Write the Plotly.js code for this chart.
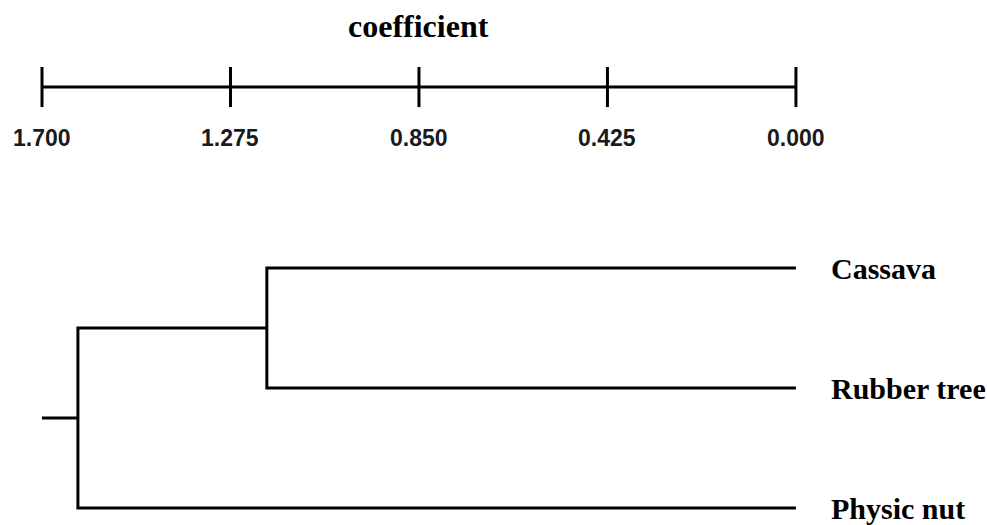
<!DOCTYPE html>
<html>
<head>
<meta charset="utf-8">
<script src="https://cdn.plot.ly/plotly-3.0.1.min.js"></script>
<style>html,body{margin:0;padding:0;background:#fff;}#chart{width:987px;height:525px;}</style>
</head>
<body>
<div id="chart"></div>
<script>
// ---- data ----
const leaves = ["Cassava", "Rubber tree", "Physic nut"];
const mergeLeft = [0, 3];          // node ids: 0..2 leaves, 3.. merges
const mergeRight = [1, 2];
const mergeHeights = [1.193, 1.619];
const scaleTicks = [1.700, 1.275, 0.850, 0.425, 0.000];
const tickLabels = ["1.700", "1.275", "0.850", "0.425", "0.000"];
const scaleTitle = "coefficient";

// ---- layout constants ----
const scaleY = -1.508, tickHalf = 0.167, tickLabelY = -1.083, titleY = -2.017;
const rootTo = Math.max(...scaleTicks);

// build node positions
const nodeH = leaves.map(() => 0);
const nodeY = leaves.map((_, i) => i);
const dx = [], dy = [];
mergeHeights.forEach((h, k) => {
  const a = mergeLeft[k], b = mergeRight[k];
  const ya = nodeY[a], yb = nodeY[b];
  dx.push(nodeH[a], h, h, nodeH[b], null);
  dy.push(ya, ya, yb, yb, null);
  nodeH.push(h);
  nodeY.push((ya + yb) / 2);
});
const root = nodeH.length - 1;
dx.push(nodeH[root], rootTo, null);
dy.push(nodeY[root], nodeY[root], null);

// scale bar
const sx = [scaleTicks[0], scaleTicks[scaleTicks.length - 1], null];
const sy = [scaleY, scaleY, null];
scaleTicks.forEach(t => { sx.push(t, t, null); sy.push(scaleY - tickHalf, scaleY + tickHalf, null); });

const lineStyle = {color: "#000", width: 3};
const traces = [
  {x: dx, y: dy, mode: "lines", line: lineStyle, hoverinfo: "skip", showlegend: false},
  {x: sx, y: sy, mode: "lines", line: lineStyle, hoverinfo: "skip", showlegend: false}
];

const annotations = [];
leaves.forEach((name, i) => annotations.push({
  x: 0, y: i, xref: "x", yref: "y", text: name, showarrow: false,
  xanchor: "left", yanchor: "middle", xshift: 33,
  font: {family: "Liberation Serif", size: 30, color: "#000", weight: "bold"}
}));
scaleTicks.forEach((t, i) => annotations.push({
  x: t, y: tickLabelY, xref: "x", yref: "y", text: "<b>" + tickLabels[i] + "</b>", showarrow: false,
  xanchor: "center", yanchor: "middle",
  font: {family: "Liberation Sans", size: 23, color: "#1a1a1a"}
}));
annotations.push({
  x: (scaleTicks[0] + scaleTicks[scaleTicks.length - 1]) / 2, y: titleY, xref: "x", yref: "y",
  text: "<b>" + scaleTitle + "</b>", showarrow: false, xanchor: "center", yanchor: "middle",
  font: {family: "Liberation Serif", size: 32, color: "#000"}
});

const layout = {
  width: 987, height: 525,
  margin: {l: 0, r: 0, t: 0, b: 0},
  paper_bgcolor: "#fff", plot_bgcolor: "#fff",
  xaxis: {range: [1.7947, -0.4308], visible: false, fixedrange: true},
  yaxis: {range: [2.1417, -2.2333], visible: false, fixedrange: true},
  annotations: annotations,
  showlegend: false
};
Plotly.newPlot("chart", traces, layout, {displayModeBar: false, staticPlot: true});
</script>
</body>
</html>
